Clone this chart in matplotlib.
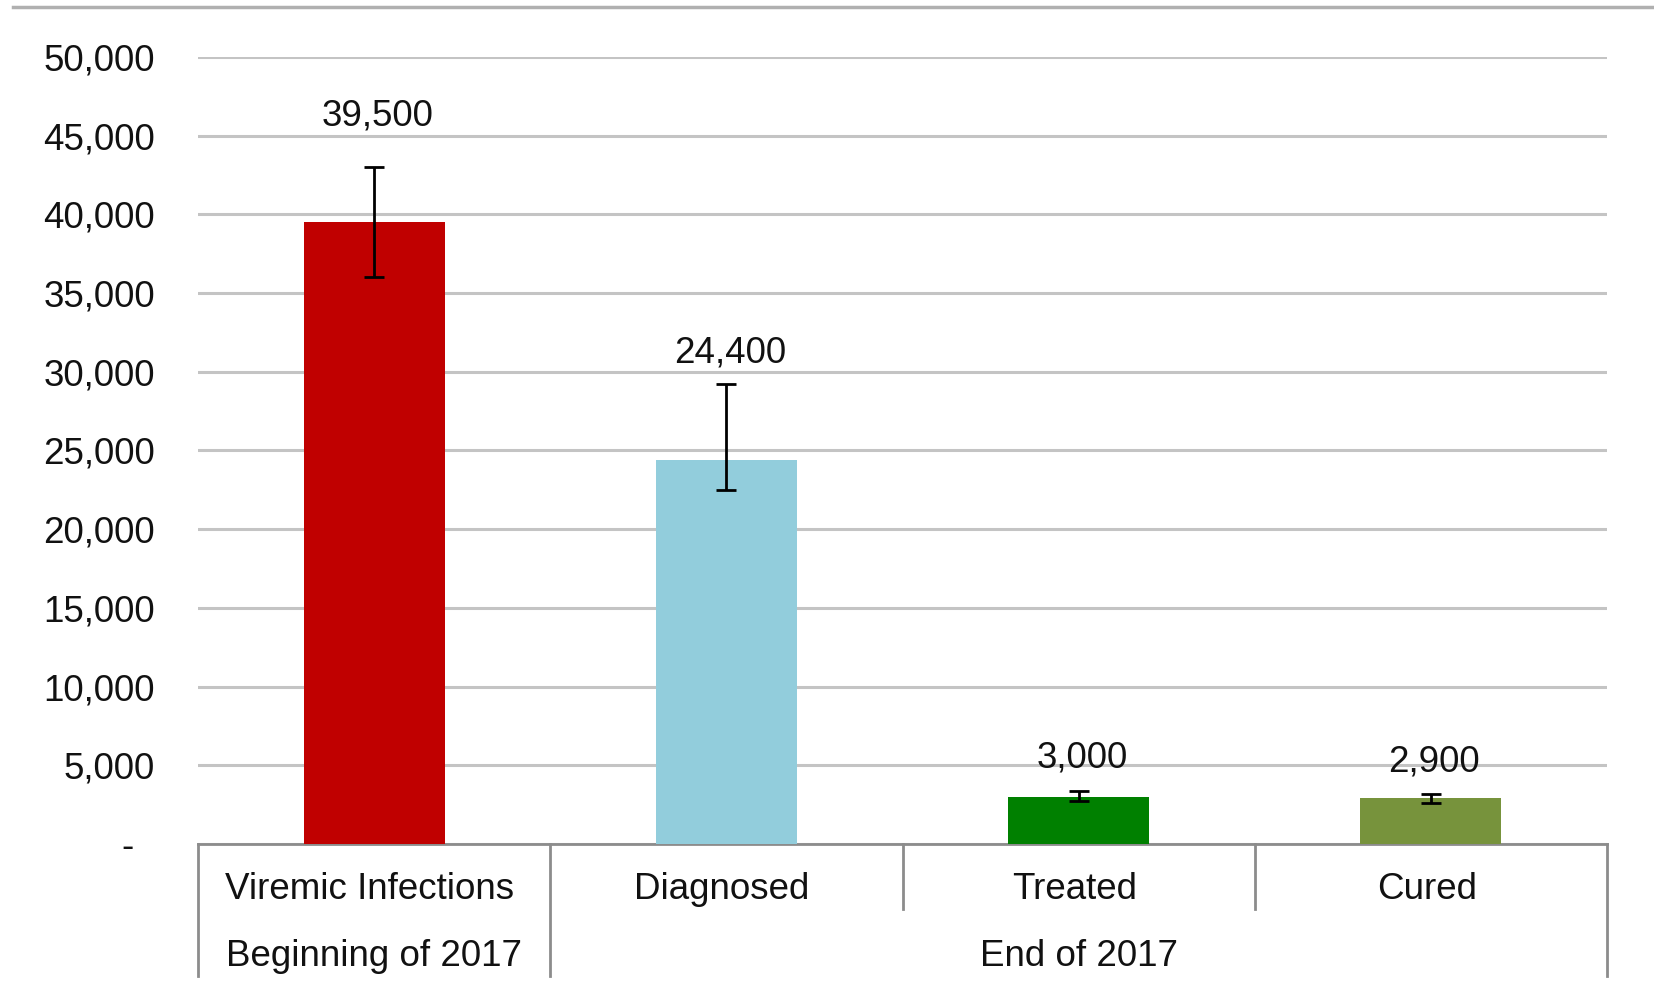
import matplotlib
matplotlib.use("Agg")
import matplotlib.pyplot as plt
from matplotlib.lines import Line2D
import numpy as np

# Data
categories = ["Viremic Infections", "Diagnosed", "Treated", "Cured"]
groups = ["Beginning of 2017", "End of 2017"]
group_sizes = [1, 3]
values = [39500, 24400, 3000, 2900]
err_low = [36000, 22500, 2700, 2600]
err_high = [43000, 29200, 3350, 3200]
value_labels = ["39,500", "24,400", "3,000", "2,900"]
label_heights = [46250, 31170, 5430, 5230]
yticks = [0, 5000, 10000, 15000, 20000, 25000, 30000, 35000, 40000, 45000, 50000]
ytick_labels = ["-  "] + [f"{v:,}" for v in yticks[1:]]

colors = ["#C00000", "#92CDDC", "#008000", "#77933C"]

plt.rcParams['font.family'] = ['Liberation Sans', 'DejaVu Sans']

fig = plt.figure(figsize=(16.54, 9.97), dpi=100)
ax = fig.add_axes([0.1197, 0.1535, 0.8519, 0.7895])

x = np.arange(len(categories))
ax.bar(x, values, width=0.4, color=colors, zorder=3)
lower = np.array(values) - np.array(err_low)
upper = np.array(err_high) - np.array(values)
ax.errorbar(x, values, yerr=[lower, upper], fmt='none', ecolor='black',
            elinewidth=2, capsize=7.5, capthick=2, zorder=4)

for xi, lab, h in zip(x, value_labels, label_heights):
    ax.text(xi + 0.01, h, lab, ha='center', va='center', fontsize=26.5, color='#111111')

ax.set_xlim(-0.5, len(categories) - 0.5)
ax.set_ylim(0, 50000)
ax.set_yticks(yticks)
ax.set_yticklabels(ytick_labels, fontsize=26.5, color='#111111')
ax.tick_params(axis='y', length=0, pad=31)
ax.set_xticks([])
ax.yaxis.grid(True, color='#C4C4C4', linewidth=2.2, zorder=0)
ax.set_axisbelow(True)
for s in ['top', 'right', 'left']:
    ax.spines[s].set_visible(False)
ax.spines['bottom'].set_color('#8C8C8C')
ax.spines['bottom'].set_linewidth(2)

# Category labels and separators below axis
trans = ax.get_xaxis_transform()
for xi, cat in zip(x, categories):
    ax.text(xi - 0.012, -0.058, cat, transform=trans, ha='center', va='center',
            fontsize=26.5, color='#111111')

bounds = np.cumsum([0] + group_sizes) - 0.5
for i in range(len(categories) + 1):
    edge = i - 0.5
    bottom = -0.168 if np.any(np.isclose(bounds, edge)) else -0.083
    ax.add_line(Line2D([edge, edge], [0, bottom], transform=trans, color='#8C8C8C',
                       linewidth=2, clip_on=False))

for g, start, size in zip(groups, bounds[:-1], group_sizes):
    ax.text(start + size / 2, -0.143, g, transform=trans, ha='center', va='center',
            fontsize=26.5, color='#111111')

# Top border line
fig.add_artist(Line2D([0.008, 1.0], [0.9926, 0.9926], transform=fig.transFigure,
                      color='#B0B0B0', linewidth=2.5))

fig.savefig("out.png", dpi=100)
